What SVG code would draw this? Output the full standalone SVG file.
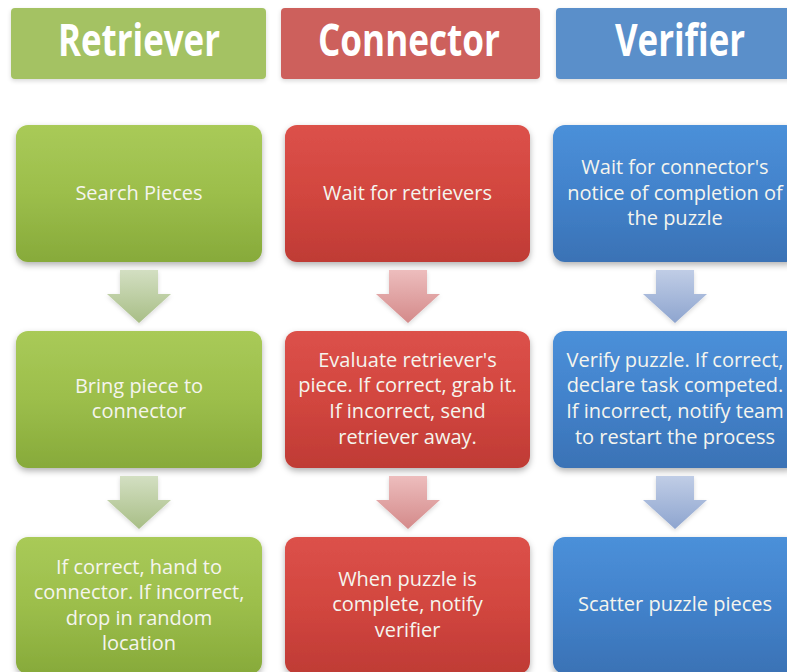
<svg xmlns="http://www.w3.org/2000/svg" width="787" height="672" viewBox="0 0 787 672">
  <defs>
    <linearGradient id="gGreen" x1="0" y1="0" x2="0" y2="1">
      <stop offset="0" stop-color="#a9ca58"/>
      <stop offset="0.5" stop-color="#9cbe4b"/>
      <stop offset="1" stop-color="#87aa3a"/>
    </linearGradient>
    <linearGradient id="gRed" x1="0" y1="0" x2="0" y2="1">
      <stop offset="0" stop-color="#dc514a"/>
      <stop offset="0.5" stop-color="#d2463f"/>
      <stop offset="1" stop-color="#bf3b35"/>
    </linearGradient>
    <linearGradient id="gBlue" x1="0" y1="0" x2="0" y2="1">
      <stop offset="0" stop-color="#4b90d9"/>
      <stop offset="0.5" stop-color="#4282cb"/>
      <stop offset="1" stop-color="#3a72b5"/>
    </linearGradient>
    <linearGradient id="aGreen" x1="0" y1="0" x2="0" y2="1">
      <stop offset="0" stop-color="#d3dfc2"/>
      <stop offset="1" stop-color="#a8be86"/>
    </linearGradient>
    <linearGradient id="aRed" x1="0" y1="0" x2="0" y2="1">
      <stop offset="0" stop-color="#edbdbd"/>
      <stop offset="1" stop-color="#d48a8a"/>
    </linearGradient>
    <linearGradient id="aBlue" x1="0" y1="0" x2="0" y2="1">
      <stop offset="0" stop-color="#c0cde6"/>
      <stop offset="1" stop-color="#8ea5cf"/>
    </linearGradient>
    <filter id="shadow" x="-10%" y="-10%" width="120%" height="130%">
      <feDropShadow dx="0" dy="3" stdDeviation="3" flood-color="#000" flood-opacity="0.3"/>
    </filter>
    <filter id="softShadow" x="-20%" y="-20%" width="140%" height="140%">
      <feDropShadow dx="0" dy="2" stdDeviation="2" flood-color="#000" flood-opacity="0.15"/>
    </filter>
  </defs>
  <style>
    .hdr text { font-family: "Open Sans", "Noto Sans", sans-serif; font-weight: 700; font-size: 44px; fill: #ffffff; text-anchor: middle; }
    .box text { font-family: "Open Sans", "Noto Sans", sans-serif; font-size: 20px; fill: #f5f5ee; text-anchor: middle; }
    .green rect { fill: url(#gGreen); }
    .red rect { fill: url(#gRed); }
    .blue rect { fill: url(#gBlue); }
    .box rect { filter: url(#shadow); }
  </style>
  <rect width="787" height="672" fill="#ffffff"/>

  <!-- column headers -->
  <g id="hdr-retriever" class="hdr">
    <rect x="11" y="8" width="255" height="71" rx="4" fill="#a4c264" filter="url(#softShadow)"/>
    <text x="139" y="56" textLength="162" lengthAdjust="spacingAndGlyphs">Retriever</text>
  </g>
  <g id="hdr-connector" class="hdr">
    <rect x="281" y="8" width="259" height="71" rx="4" fill="#cd615b" filter="url(#softShadow)"/>
    <text x="409" y="56" textLength="182" lengthAdjust="spacingAndGlyphs">Connector</text>
  </g>
  <g id="hdr-verifier" class="hdr">
    <rect x="556" y="8" width="250" height="71" rx="4" fill="#5a8fca" filter="url(#softShadow)"/>
    <text x="680" y="56" textLength="130" lengthAdjust="spacingAndGlyphs">Verifier</text>
  </g>

  <!-- retriever column -->
  <g id="r1" class="box green">
    <rect x="16" y="125" width="246" height="137" rx="12"/>
    <text x="139" y="200">Search Pieces</text>
  </g>
  <g id="r2" class="box green">
    <rect x="16" y="331" width="246" height="137" rx="12"/>
    <text x="139" y="393">Bring piece to</text>
    <text x="139" y="418">connector</text>
  </g>
  <g id="r3" class="box green">
    <rect x="16" y="537" width="246" height="137" rx="12"/>
    <text x="139" y="574">If correct, hand to</text>
    <text x="139" y="599">connector. If incorrect,</text>
    <text x="139" y="625">drop in random</text>
    <text x="139" y="650">location</text>
  </g>

  <!-- connector column -->
  <g id="c1" class="box red">
    <rect x="285" y="125" width="245" height="137" rx="12"/>
    <text x="407.5" y="200">Wait for retrievers</text>
  </g>
  <g id="c2" class="box red">
    <rect x="285" y="331" width="245" height="137" rx="12"/>
    <text x="407.5" y="367">Evaluate retriever's</text>
    <text x="407.5" y="392">piece. If correct, grab it.</text>
    <text x="407.5" y="418">If incorrect, send</text>
    <text x="407.5" y="444">retriever away.</text>
  </g>
  <g id="c3" class="box red">
    <rect x="285" y="537" width="245" height="137" rx="12"/>
    <text x="407.5" y="586">When puzzle is</text>
    <text x="407.5" y="611">complete, notify</text>
    <text x="407.5" y="637">verifier</text>
  </g>

  <!-- verifier column -->
  <g id="v1" class="box blue">
    <rect x="553" y="125" width="245" height="137" rx="12"/>
    <text x="675" y="174">Wait for connector's</text>
    <text x="675" y="200">notice of completion of</text>
    <text x="675" y="225">the puzzle</text>
  </g>
  <g id="v2" class="box blue">
    <rect x="553" y="331" width="245" height="137" rx="12"/>
    <text x="675" y="367">Verify puzzle. If correct,</text>
    <text x="675" y="392">declare task competed.</text>
    <text x="675" y="418">If incorrect, notify team</text>
    <text x="675" y="444">to restart the process</text>
  </g>
  <g id="v3" class="box blue">
    <rect x="553" y="537" width="245" height="137" rx="12"/>
    <text x="675" y="611">Scatter puzzle pieces</text>
  </g>

  <!-- down arrows between steps -->
  <g id="connectors" filter="url(#softShadow)">
    <path fill="url(#aGreen)" d="M120 270 H158 V294 H171 L139 323 L107 294 H120 Z"/>
    <path fill="url(#aGreen)" d="M120 476 H158 V500 H171 L139 529 L107 500 H120 Z"/>
    <path fill="url(#aRed)" d="M389 270 H427 V294 H440 L408 323 L376 294 H389 Z"/>
    <path fill="url(#aRed)" d="M389 476 H427 V500 H440 L408 529 L376 500 H389 Z"/>
    <path fill="url(#aBlue)" d="M656 270 H694 V294 H707 L675 323 L643 294 H656 Z"/>
    <path fill="url(#aBlue)" d="M656 476 H694 V500 H707 L675 529 L643 500 H656 Z"/>
  </g>
</svg>
